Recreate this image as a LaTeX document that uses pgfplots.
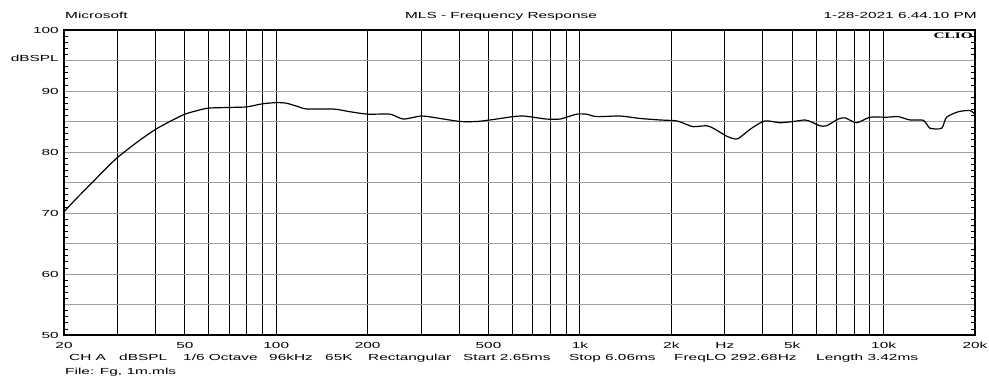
\documentclass[border=0pt]{standalone}
\usepackage{fontspec}
\setmainfont{Liberation Sans}[FakeStretch=1.75]
\newfontfamily\cliofont{Liberation Serif}[FakeStretch=1.8]
\usepackage{pgfplots}
\pgfplotsset{compat=1.18}
\newcommand{\tf}{\fontsize{8.8bp}{10bp}\selectfont}
\begin{document}
\begin{tikzpicture}
\useasboundingbox (-64bp,-41bp) rectangle (925bp,335bp);
\begin{axis}[
  scale only axis,
  width=911bp, height=305bp,
  xmode=log,
  xmin=20, xmax=20000, ymin=50, ymax=100,
  xtick={20,30,40,50,60,70,80,90,100,200,300,400,500,600,700,800,900,1000,2000,3000,4000,5000,6000,7000,8000,9000,10000,20000},
  xticklabels={20,,,50,,,,,100,200,,,500,,,,,1k,2k,Hz,,5k,,,,,10k,20k},
  minor xtick={},
  ytick={50,55,...,100},
  yticklabels={50,,60,,70,,80,,90,,100},
  minor ytick={51,52,53,54,56,57,58,59,61,62,63,64,66,67,68,69,71,72,73,74,76,77,78,79,81,82,83,84,86,87,88,89,91,92,93,94,96,97,98,99},
  ytick pos=both,
  tick align=inside,
  major tick length=0pt,
  minor tick length=4bp,
  minor tick style={black, line width=0.7bp},
  grid=major,
  x grid style={black, line width=0.9bp},
  y grid style={gray!75, line width=0.9bp},
  axis line style={black, line width=1.2bp},
  /pgf/number format/assume math mode=true,
  tick label style={font=\tf, text=black},
  xticklabel style={anchor=base, inner sep=0pt, yshift=-13bp},
  yticklabel style={anchor=east, inner sep=0pt, xshift=-5bp},
  clip=true,
]
\addplot[black, line width=1.2bp, smooth, tension=0.4] coordinates {
(20,70.2) (22,72.4) (25,75.2) (27,76.9) (30,79.1) (35,81.7) (40,83.7) (45,85.1)
(50,86.2) (55,86.8) (60,87.2) (70,87.3) (80,87.4) (90,87.9) (100,88.1) (108,88.0)
(117,87.5) (126,87.05) (154,87.05) (175,86.6) (200,86.2) (237,86.2) (262,85.4)
(301,85.9) (346,85.5) (403,85.0) (457,85.0) (506,85.25) (603,85.8) (650,85.9)
(702,85.7) (776,85.4) (859,85.4) (975,86.2) (1051,86.2) (1135,85.8) (1354,85.9)
(1577,85.5) (1834,85.25) (2081,85.1) (2250,84.5) (2361,84.15) (2612,84.3)
(2748,83.9) (3040,82.6) (3199,82.2) (3322,82.2) (3677,83.9) (4067,85.1)
(4556,84.8) (5042,85.0) (5510,85.25) (5800,84.9) (6170,84.3) (6490,84.3)
(7090,85.4) (7460,85.6) (8150,84.8) (9020,85.7) (10230,85.7) (11170,85.8)
(12210,85.25) (13510,85.2) (14220,83.9) (15530,83.9) (16120,85.7) (17620,86.6)
(19240,86.8) (20000,86.2)
};
\end{axis}
\tikzset{t/.style={inner sep=0pt, font=\tf, text=black}}
\node[t, anchor=base west] at (1bp,316bp) {Microsoft};
\node[t, anchor=base] at (437bp,316bp) {MLS - Frequency Response};
\node[t, anchor=base east] at (913bp,316bp) {1-28-2021 6.44.10 PM};
\node[inner sep=0pt, anchor=base east, font=\cliofont\bfseries\fontsize{8.5bp}{9bp}\selectfont] at (909bp,296.5bp) {CLIO};
\node[t, anchor=base east] at (-5bp,273bp) {dBSPL};
\node[t, anchor=base west] at (5bp,-25bp) {CH A};
\node[t, anchor=base west] at (55bp,-25bp) {dBSPL};
\node[t, anchor=base west] at (119bp,-25bp) {1/6 Octave};
\node[t, anchor=base west] at (205bp,-25bp) {96kHz};
\node[t, anchor=base west] at (261bp,-25bp) {65K};
\node[t, anchor=base west] at (304bp,-25bp) {Rectangular};
\node[t, anchor=base west] at (399bp,-25bp) {Start 2.65ms};
\node[t, anchor=base west] at (505bp,-25bp) {Stop 6.06ms};
\node[t, anchor=base west] at (610bp,-25bp) {FreqLO 292.68Hz};
\node[t, anchor=base west] at (752bp,-25bp) {Length 3.42ms};
\node[t, anchor=base west] at (1bp,-39bp) {File: Fg, 1m.mls};
\end{tikzpicture}
\end{document}
